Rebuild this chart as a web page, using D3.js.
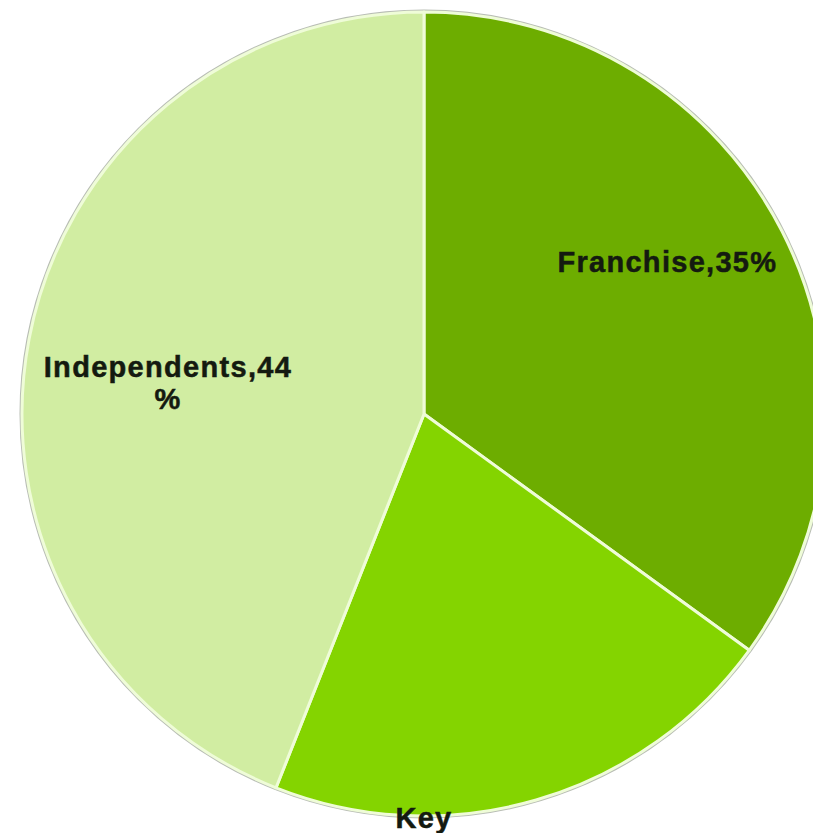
<!DOCTYPE html>
<html><head><meta charset="utf-8">
<script src="https://cdn.jsdelivr.net/npm/d3@7/dist/d3.min.js"></script>
<style>html,body{margin:0;padding:0;background:#fff;overflow:hidden}</style>
</head><body>
<svg id="chart" width="813" height="833"></svg>
<script>
const categories = ["Franchise", "Key", "Independents"];
const values = [35, 21, 44];
const labelTexts = [["Franchise,35%"], ["Key"], ["Independents,44", "%"]];

const colors = ["#6dad00", "#84d400", "#d1eda2"];
// label anchor in polar coords (degrees clockwise from top, radius in px)
const labelPolar = [[58, 287], [180, 404], [277, 258]];

const svg = d3.select("#chart");
const cx = 424, cy = 414, R = 402;
const g = svg.append("g").attr("transform", `translate(${cx},${cy})`);

// faint outer shadow ring
g.append("circle").attr("r", R + 1.5).attr("fill", "none")
  .attr("stroke", "#b8bdb4").attr("stroke-width", 2);

const pie = d3.pie().sort(null).value(d => d)(values);
const arc = d3.arc().innerRadius(0).outerRadius(R);

g.selectAll("path.slice").data(pie).join("path")
  .attr("class", "slice")
  .attr("d", arc)
  .attr("fill", (d, i) => colors[i])
  .attr("stroke", "#effcd8")
  .attr("stroke-width", 3)
  .attr("stroke-linejoin", "round");

const labels = g.selectAll("text.lbl").data(pie).join("text")
  .attr("class", "lbl")
  .attr("text-anchor", "middle")
  .attr("font-family", "'Liberation Sans', Arial, sans-serif")
  .attr("font-weight", "bold")
  .attr("font-size", 29)
  .attr("letter-spacing", "1.3px")
  .attr("fill", "#141a10")
  .attr("stroke", "#141a10")
  .attr("stroke-width", 0.5)
  .attr("transform", (d, i) => {
    const a = labelPolar[i][0] * Math.PI / 180, r = labelPolar[i][1];
    return `translate(${r * Math.sin(a)},${-r * Math.cos(a)})`;
  });

labels.each(function(d, i) {
  const lines = labelTexts[i];
  const t = d3.select(this);
  const lh = 32;
  const off = -(lines.length - 1) * lh / 2 + 10;
  lines.forEach((s, j) => {
    t.append("tspan").attr("x", 0).attr("y", off + j * lh).text(s);
  });
});
</script>
</body></html>
